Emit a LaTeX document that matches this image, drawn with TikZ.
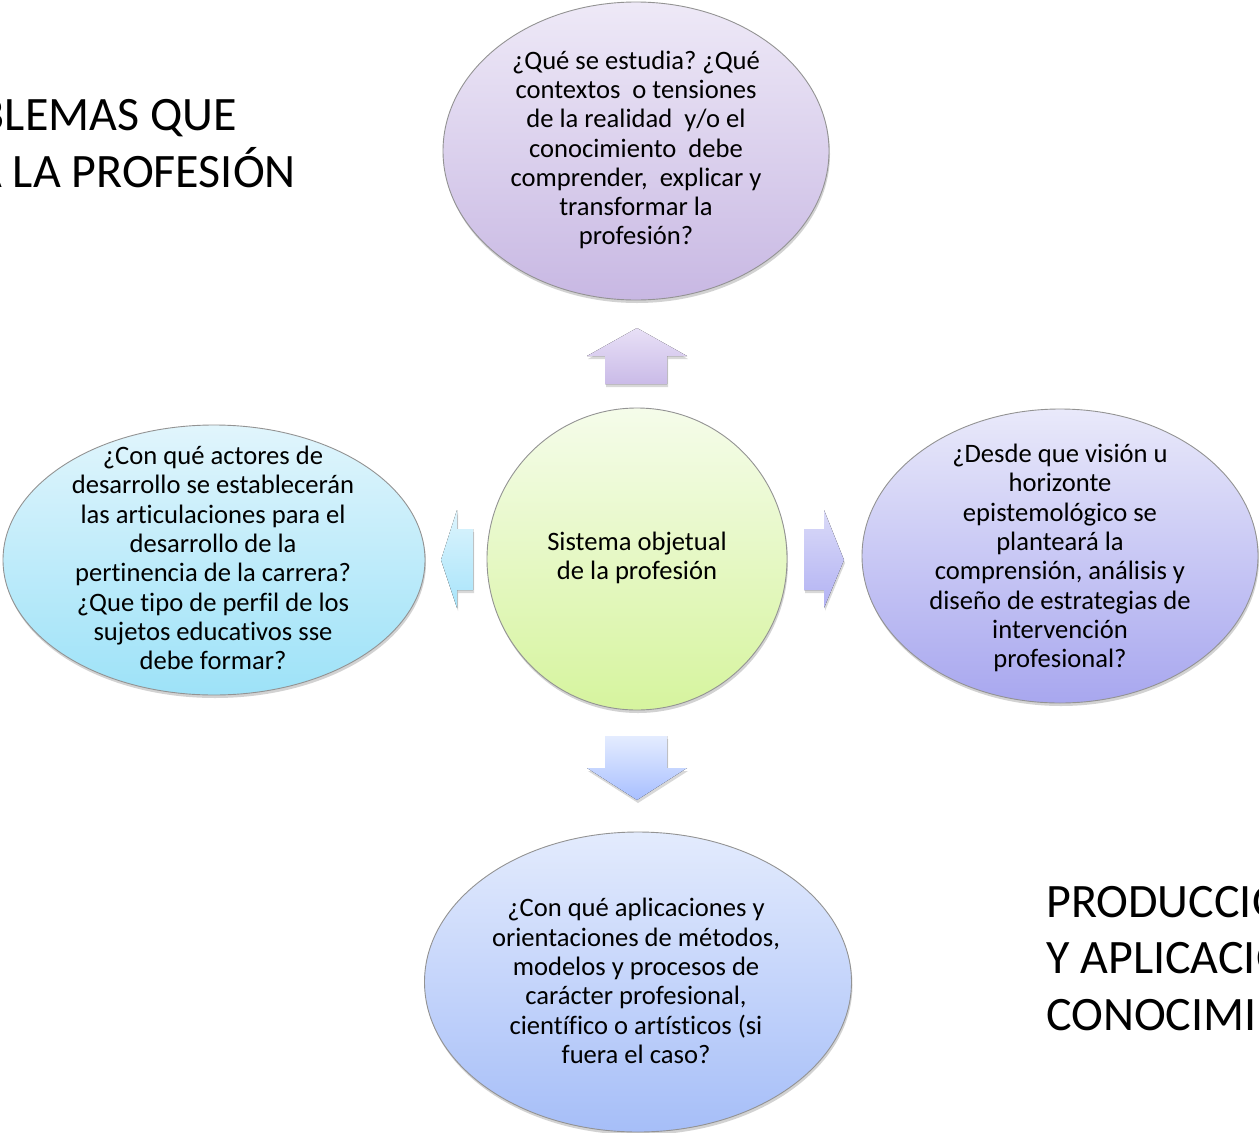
\documentclass[tikz,border=0pt]{standalone}
\usepackage{fontspec}
\setmainfont[Ligatures=CommonOff]{Carlito}
\usetikzlibrary{shapes.geometric,shadows}
\frenchspacing

\definecolor{queTop}{HTML}{EEE9F7}
\definecolor{queBot}{HTML}{C8B8E3}
\definecolor{conTop}{HTML}{E1F5FC}
\definecolor{conBot}{HTML}{9DE2F8}
\definecolor{desTop}{HTML}{E9E9FA}
\definecolor{desBot}{HTML}{A8A7EF}
\definecolor{aplTop}{HTML}{E3EBFD}
\definecolor{aplBot}{HTML}{A6BEF8}
\definecolor{sisTop}{HTML}{F5FCEA}
\definecolor{sisBot}{HTML}{D6F49E}
\definecolor{upTop}{HTML}{E8E0F6}
\definecolor{upBot}{HTML}{CABBE8}
\definecolor{downTop}{HTML}{E4ECFF}
\definecolor{downBot}{HTML}{A8BFFF}
\definecolor{leftTop}{HTML}{DDF4FD}
\definecolor{leftBot}{HTML}{A8E4FA}
\definecolor{rightTop}{HTML}{DADAF8}
\definecolor{rightBot}{HTML}{B2B2F3}

\begin{document}
\begin{tikzpicture}[x=1pt,y=-1pt,
        bubble/.style={ellipse,draw=gray!85,line width=0.9pt,
            drop shadow={shadow xshift=1pt,shadow yshift=-3pt,opacity=0.35,fill=gray}},
        qtext/.style={align=center,inner sep=0pt,font=\fontsize{26.6}{29.3}\selectfont},
        bigtext/.style={inner sep=0pt,font=\fontsize{48}{57}\selectfont},
        blockarrow/.style={drop shadow={shadow xshift=1pt,shadow yshift=-3pt,opacity=0.3,fill=gray}}]
        \useasboundingbox[fill=white] (0,0) rectangle (1259,1133);
        % texts cut by the page edge
        \node[bigtext,anchor=base east] (prob1) at (237,130) {BLEMAS QUE};
        \node[bigtext,anchor=base east] (prob2) at (296,187) {A LA PROFESIÓN};
        \foreach \n/\y/\t in {prod1/917/PRODUCCIÓ,prod2/973/Y APLICACIÓ,prod3/1030/CONOCIMI}
        {
            \node[bigtext,anchor=base west] (\n) at (1046,\y) {\t};
        }
        % bubbles
        \foreach \n/\x/\y/\w/\h in {que/636/151/386/298,con/214/560/422/270,sis/637/559/300/302,des/1060/556/396/294,apl/638/982/427/300}
        {
            \node[bubble,minimum width=\w pt,minimum height=\h pt,top color=\n Top,bottom color=\n Bot] (\n) at (\x,\y) {};
        }
        \node[qtext] (que-t) at (636,150) {¿Qué se estudia? ¿Qué\\contextos\ \ o tensiones\\de la realidad\ \ y/o el\\conocimiento\ \ debe\\comprender,\ \ explicar y\\transformar la\\profesión?};
        \node[qtext] (con-t) at (213,558) {¿Con qué actores de\\desarrollo se establecerán\\las articulaciones para el\\desarrollo de la\\pertinencia de la carrera?\\¿Que tipo de perfil de los\\sujetos educativos sse\\debe formar?};
        \node[qtext] (sis-t) at (637,558) {Sistema objetual\\de la profesión};
        \node[qtext] (des-t) at (1060,558) {¿Desde que visión u\\horizonte\\epistemológico se\\planteará la\\comprensión, análisis y\\diseño de estrategias de\\intervención\\profesional?};
        \node[qtext] (apl-t) at (636,981) {¿Con qué aplicaciones y\\orientaciones de métodos,\\modelos y procesos de\\carácter profesional,\\científico o artísticos (si\\fuera el caso?};
        % block arrows
        \fill[blockarrow,top color=upTop,bottom color=upBot] (605,384)--(605,356)--(587,356)--(637,328)--(687,356)--(667,356)--(667,384)--cycle;
        \fill[blockarrow,top color=downTop,bottom color=downBot] (605,736)--(667,736)--(667,768)--(687,768)--(637,800)--(587,768)--(605,768)--cycle;
        \fill[blockarrow,top color=leftTop,bottom color=leftBot] (473,529)--(457,529)--(457,510)--(441,560)--(457,608)--(457,590)--(473,590)--cycle;
        \fill[blockarrow,top color=rightTop,bottom color=rightBot] (804,529)--(824,529)--(824,510)--(844,560)--(824,608)--(824,590)--(804,590)--cycle;
    \end{tikzpicture}
\end{document}
